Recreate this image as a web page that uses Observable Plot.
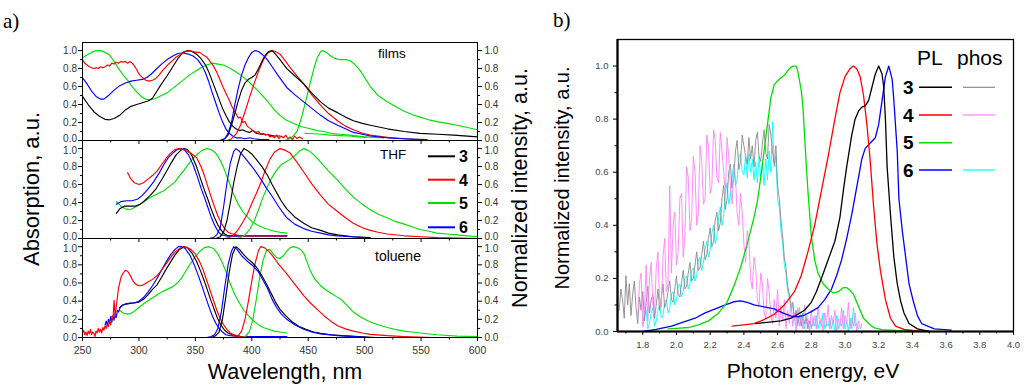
<!DOCTYPE html>
<html><head><meta charset="utf-8">
<script src="https://cdn.jsdelivr.net/npm/d3@7"></script>
<script src="https://cdn.jsdelivr.net/npm/@observablehq/plot@0.6"></script>
<style>
body{margin:0;background:#fff;}
#fig{position:relative;width:1024px;height:387px;overflow:hidden;background:#fff;}
</style></head><body><div id="fig"></div>
<script>
// ---------- panel a) axes ----------
const nmDomain = [250, 600];
const nmTicks = [250, 300, 350, 400, 450, 500, 550, 600];
const nmMinor = [275, 325, 375, 425, 475, 525, 575];
const aDomain = [0, 1.09];
const aTicks = [0, 0.2, 0.4, 0.6, 0.8, 1.0];
const aMid = [0.2, 0.4, 0.6, 0.8];
const aMinor = [0.1, 0.3, 0.5, 0.7, 0.9];
const col = {"3": "#000000", "4": "#ff0000", "5": "#00e000", "6": "#0000ff"};
const phosCol = {"3": "#8a8a8a", "4": "#ff80ff", "6": "#00ffff"};

// ---------- films ----------
const filmsAbs3 = [[250,0.49],[255,0.40],[260,0.32],[265,0.27],[270,0.235],[274,0.23],[278,0.245],[283,0.28],[288,0.34],[293,0.38],[298,0.40],[303,0.42],[308,0.44],[312,0.47],[316,0.55],[320,0.63],[325,0.72],[330,0.82],[335,0.92],[339,0.98],[343,1.0],[347,0.99],[351,0.96],[355,0.91],[359,0.84],[362,0.76],[365,0.66],[368,0.56],[371,0.46],[374,0.36],[377,0.28],[380,0.21],[383,0.16],[386,0.13],[389,0.11],[392,0.12],[395,0.10],[398,0.09],[401,0.11],[404,0.08],[408,0.07],[412,0.07],[416,0.06],[420,0.05],[425,0.05]];
const filmsAbs4 = [[250,0.90],[252,0.86],[254,0.84],[256,0.82],[258,0.81],[260,0.80],[262,0.81],[264,0.80],[266,0.82],[268,0.81],[270,0.82],[272,0.84],[274,0.83],[276,0.86],[278,0.85],[280,0.87],[282,0.86],[284,0.88],[286,0.87],[288,0.88],[290,0.86],[292,0.88],[294,0.86],[296,0.83],[298,0.79],[300,0.74],[303,0.70],[306,0.67],[309,0.66],[312,0.67],[315,0.69],[318,0.73],[321,0.78],[324,0.82],[327,0.86],[330,0.89],[333,0.93],[336,0.95],[339,0.98],[342,0.99],[345,1.00],[348,0.99],[351,0.98],[354,0.98],[357,0.95],[360,0.93],[363,0.88],[366,0.83],[369,0.76],[372,0.67],[375,0.58],[378,0.50],[380,0.45],[382,0.39],[384,0.34],[386,0.30],[388,0.25],[390,0.26],[392,0.20],[394,0.21],[396,0.16],[398,0.14],[400,0.12],[402,0.10],[404,0.09],[406,0.10],[408,0.07],[410,0.08],[412,0.06],[414,0.07],[416,0.04],[418,0.05],[420,0.03],[422,0.06],[424,0.02],[426,0.05],[428,0.03],[430,0.06],[432,0.02],[434,0.04],[436,0.01],[438,0.05],[440,0.02],[442,0.04],[445,0.02]];
const filmsAbs5 = [[250,0.92],[254,0.95],[258,0.98],[262,1.0],[266,1.0],[270,0.98],[274,0.95],[278,0.88],[282,0.80],[286,0.73],[290,0.67],[294,0.60],[298,0.54],[302,0.49],[306,0.46],[310,0.45],[315,0.47],[320,0.50],[325,0.53],[330,0.58],[335,0.63],[340,0.68],[345,0.73],[350,0.77],[355,0.81],[360,0.84],[365,0.86],[370,0.85],[375,0.84],[380,0.81],[385,0.77],[390,0.73],[395,0.68],[400,0.62],[405,0.56],[410,0.49],[415,0.42],[420,0.34],[425,0.28],[430,0.23],[437,0.19],[445,0.15],[452,0.13],[458,0.11],[464,0.10],[470,0.08],[478,0.07],[487,0.06],[500,0.04],[517,0.03]];
const filmsAbs5b = [[447,0.08],[455,0.075],[462,0.07],[470,0.06],[478,0.055],[486,0.05],[494,0.04],[502,0.035]];
const filmsAbs6 = [[250,0.70],[254,0.63],[258,0.55],[262,0.49],[266,0.46],[269,0.46],[273,0.50],[278,0.56],[283,0.61],[288,0.64],[293,0.66],[298,0.67],[303,0.68],[307,0.70],[311,0.74],[315,0.79],[320,0.85],[325,0.90],[330,0.94],[335,0.97],[340,0.97],[344,0.96],[348,0.94],[352,0.90],[356,0.83],[359,0.75],[362,0.65],[365,0.53],[368,0.42],[371,0.31],[374,0.21],[377,0.13],[380,0.08],[383,0.05],[386,0.03],[390,0.03],[394,0.02],[398,0.03],[402,0.02],[408,0.01],[415,0.01]];
const filmsPL3 = [[372,0],[376,0.02],[379,0.06],[382,0.17],[385,0.30],[388,0.44],[391,0.56],[394,0.64],[397,0.68],[400,0.70],[403,0.73],[406,0.80],[409,0.88],[412,0.95],[415,0.99],[418,1.0],[421,0.96],[425,0.90],[431,0.80],[438,0.72],[446,0.63],[453,0.53],[461,0.43],[468,0.36],[476,0.31],[483,0.26],[490,0.22],[498,0.19],[505,0.17],[520,0.13],[535,0.10],[549,0.08],[565,0.07],[579,0.06],[600,0.04]];
const filmsPL4 = [[378,0],[382,0.02],[386,0.07],[390,0.17],[394,0.32],[398,0.48],[402,0.63],[406,0.77],[410,0.89],[414,0.97],[418,1.0],[421,0.99],[425,0.96],[430,0.88],[434,0.81],[440,0.72],[446,0.63],[453,0.51],[461,0.39],[468,0.30],[476,0.22],[483,0.16],[490,0.12],[498,0.08],[505,0.06],[520,0.035],[535,0.02],[548,0.01],[560,0.0]];
const filmsPL5 = [[428,0],[432,0.01],[436,0.04],[440,0.10],[444,0.25],[448,0.45],[452,0.65],[455,0.80],[458,0.92],[461,0.99],[463,1.0],[466,0.98],[470,0.94],[474,0.91],[478,0.90],[483,0.90],[487,0.89],[491,0.85],[496,0.78],[500,0.70],[505,0.60],[512,0.50],[520,0.43],[527,0.38],[534,0.33],[542,0.29],[549,0.26],[557,0.23],[564,0.21],[573,0.19],[582,0.17],[591,0.145],[600,0.12]];
const filmsPL6 = [[372,0],[376,0.02],[379,0.08],[382,0.20],[385,0.40],[388,0.58],[391,0.73],[394,0.84],[397,0.92],[400,0.98],[403,1.0],[406,0.99],[409,0.96],[413,0.91],[417,0.84],[424,0.71],[431,0.59],[438,0.51],[446,0.43],[453,0.36],[461,0.28],[468,0.22],[476,0.17],[483,0.13],[490,0.09],[498,0.07],[505,0.05],[520,0.03],[535,0.02],[555,0.01]];

// ---------- THF ----------
const thfAbs3 = [[280,0.28],[283,0.33],[287,0.36],[292,0.36],[297,0.36],[301,0.38],[305,0.42],[310,0.48],[315,0.55],[320,0.65],[325,0.76],[329,0.85],[333,0.93],[337,0.98],[340,1.0],[343,0.99],[347,0.92],[351,0.80],[355,0.65],[358,0.54],[361,0.44],[364,0.33],[367,0.23],[370,0.15],[373,0.09],[376,0.05],[379,0.03],[385,0.03],[400,0.03],[415,0.03],[431,0.03]];
const thfAbs4 = [[290,0.73],[293,0.66],[296,0.62],[300,0.60],[304,0.62],[308,0.66],[312,0.70],[316,0.75],[320,0.82],[324,0.89],[328,0.95],[332,0.99],[335,1.0],[339,0.99],[343,0.97],[347,0.94],[351,0.90],[355,0.80],[358,0.70],[361,0.58],[364,0.46],[367,0.35],[370,0.25],[373,0.17],[376,0.11],[379,0.07],[383,0.05],[390,0.03],[410,0.03],[431,0.03]];
const thfAbs5 = [[280,0.41],[284,0.36],[288,0.33],[292,0.32],[297,0.35],[302,0.39],[307,0.43],[312,0.47],[317,0.50],[322,0.53],[327,0.58],[332,0.63],[336,0.70],[340,0.76],[344,0.83],[348,0.89],[352,0.94],[356,0.98],[360,1.0],[364,0.99],[368,0.95],[372,0.87],[376,0.76],[380,0.62],[384,0.49],[388,0.38],[392,0.30],[396,0.24],[400,0.19],[405,0.15],[410,0.12],[415,0.10],[420,0.08],[425,0.07],[431,0.06]];
const thfAbs6 = [[280,0.38],[284,0.41],[289,0.42],[294,0.42],[299,0.44],[303,0.48],[308,0.55],[313,0.63],[318,0.73],[322,0.82],[326,0.90],[330,0.95],[334,0.99],[337,1.0],[340,0.99],[344,0.93],[348,0.82],[352,0.68],[355,0.56],[358,0.46],[361,0.35],[364,0.24],[367,0.15],[370,0.08],[373,0.04],[377,0.03],[390,0.03],[410,0.03],[431,0.03]];
const thfPL3 = [[368,0],[372,0.02],[375,0.07],[378,0.20],[381,0.40],[384,0.62],[387,0.80],[390,0.94],[393,1.0],[396,0.98],[400,0.94],[404,0.88],[409,0.80],[414,0.70],[418,0.60],[422,0.51],[426,0.42],[431,0.33],[438,0.24],[446,0.17],[453,0.12],[461,0.09],[468,0.06],[476,0.04],[490,0.02],[505,0.01]];
const thfPL4 = [[376,0],[380,0.01],[384,0.04],[388,0.10],[392,0.18],[396,0.27],[400,0.39],[404,0.50],[408,0.62],[412,0.76],[416,0.88],[420,0.96],[425,1.0],[430,0.98],[434,0.95],[440,0.85],[446,0.74],[453,0.61],[461,0.48],[468,0.38],[476,0.30],[483,0.23],[490,0.17],[498,0.12],[505,0.09],[512,0.07],[520,0.05],[535,0.03],[550,0.02],[565,0.01],[600,0.0]];
const thfPL5 = [[386,0],[390,0.01],[394,0.04],[398,0.10],[402,0.19],[406,0.32],[410,0.46],[414,0.58],[418,0.68],[422,0.76],[426,0.82],[430,0.85],[434,0.88],[438,0.92],[442,0.97],[446,1.0],[450,0.98],[455,0.93],[461,0.85],[468,0.75],[476,0.65],[483,0.55],[490,0.46],[498,0.38],[505,0.32],[512,0.27],[520,0.23],[527,0.19],[535,0.16],[542,0.13],[549,0.10],[557,0.08],[564,0.06],[573,0.05],[582,0.04],[591,0.03],[600,0.02]];
const thfPL6 = [[362,0],[366,0.01],[369,0.04],[372,0.12],[375,0.35],[378,0.62],[381,0.84],[384,0.97],[386,1.0],[389,0.97],[393,0.91],[397,0.85],[402,0.77],[408,0.66],[413,0.56],[418,0.47],[424,0.35],[431,0.23],[438,0.16],[446,0.11],[453,0.08],[461,0.06],[468,0.04],[476,0.03],[488,0.02],[500,0.01]];

// ---------- toluene ----------
const tolAbs3 = [[283,0.33],[286,0.36],[290,0.37],[295,0.38],[300,0.39],[304,0.42],[308,0.47],[312,0.53],[316,0.58],[320,0.66],[324,0.75],[328,0.83],[332,0.91],[336,0.97],[340,1.0],[343,0.99],[347,0.93],[351,0.84],[355,0.72],[358,0.62],[361,0.51],[364,0.40],[367,0.30],[370,0.20],[373,0.13],[376,0.08],[379,0.05],[383,0.03],[390,0.01],[400,0.0]];
const tolAbs4 = [[250,0.05],[251,0.08],[252,0.03],[253,0.06],[254,0.02],[255,0.07],[256,0.04],[257,0.09],[258,0.03],[259,0.06],[260,0.05],[261,0.01],[262,0.07],[263,0.05],[264,0.10],[265,0.06],[266,0.09],[267,0.05],[268,0.11],[269,0.08],[270,0.13],[271,0.10],[272,0.15],[273,0.12],[274,0.19],[275,0.14],[276,0.23],[277,0.20],[278,0.41],[279,0.22],[280,0.35],[281,0.45],[282,0.55],[283,0.60],[284,0.66],[286,0.71],[288,0.74],[290,0.73],[292,0.69],[294,0.64],[296,0.60],[298,0.58],[301,0.57],[304,0.58],[308,0.61],[312,0.64],[316,0.68],[320,0.74],[324,0.81],[328,0.88],[332,0.94],[336,0.98],[339,1.0],[342,0.99],[346,0.97],[350,0.92],[354,0.83],[357,0.74],[360,0.63],[363,0.52],[366,0.41],[369,0.30],[372,0.21],[375,0.14],[378,0.09],[381,0.05],[384,0.03],[390,0.01],[400,0.0]];
const tolAbs5 = [[283,0.30],[286,0.27],[289,0.26],[292,0.26],[296,0.29],[300,0.33],[305,0.38],[310,0.42],[315,0.46],[320,0.50],[325,0.53],[330,0.56],[334,0.60],[338,0.66],[342,0.74],[346,0.82],[350,0.89],[354,0.95],[358,0.99],[362,1.0],[366,0.98],[370,0.92],[374,0.82],[378,0.70],[381,0.59],[385,0.47],[389,0.38],[393,0.30],[397,0.24],[401,0.19],[405,0.15],[410,0.11],[415,0.09],[420,0.07],[425,0.06],[431,0.05]];
const tolAbs6 = [[270,0.14],[271,0.18],[272,0.13],[273,0.20],[274,0.16],[275,0.23],[276,0.17],[277,0.24],[278,0.19],[279,0.27],[280,0.22],[281,0.30],[282,0.28],[283,0.32],[285,0.35],[288,0.37],[292,0.38],[296,0.38],[300,0.40],[304,0.44],[308,0.50],[312,0.57],[316,0.65],[320,0.74],[324,0.83],[328,0.91],[332,0.97],[335,1.0],[338,1.0],[341,0.98],[345,0.91],[349,0.80],[353,0.67],[356,0.56],[359,0.45],[362,0.34],[365,0.24],[368,0.16],[371,0.10],[374,0.06],[377,0.03],[381,0.02],[390,0.01],[410,0.01],[431,0.01]];
const tolPL3 = [[364,0],[368,0.02],[371,0.06],[374,0.20],[377,0.45],[380,0.72],[383,0.92],[386,1.0],[389,0.97],[393,0.91],[397,0.86],[401,0.82],[405,0.76],[409,0.68],[413,0.59],[417,0.49],[421,0.39],[425,0.31],[430,0.24],[436,0.17],[442,0.12],[448,0.09],[455,0.06],[461,0.045],[470,0.03],[480,0.02],[495,0.01],[510,0.0]];
const tolPL4 = [[384,0],[388,0.02],[391,0.07],[394,0.20],[397,0.40],[400,0.62],[403,0.82],[406,0.96],[408,1.0],[411,0.99],[415,0.95],[419,0.89],[423,0.82],[427,0.76],[431,0.70],[436,0.62],[441,0.54],[446,0.46],[452,0.38],[458,0.31],[464,0.24],[470,0.18],[476,0.13],[483,0.095],[490,0.07],[498,0.05],[505,0.035],[520,0.02],[535,0.01],[560,0.0]];
const tolPL5 = [[392,0],[395,0.02],[398,0.07],[401,0.20],[404,0.42],[407,0.66],[410,0.85],[413,0.96],[416,0.97],[419,0.92],[422,0.88],[425,0.87],[428,0.90],[431,0.95],[434,0.99],[437,1.0],[440,0.99],[443,0.97],[446,0.93],[449,0.83],[452,0.73],[456,0.64],[461,0.57],[466,0.52],[470,0.49],[475,0.45],[479,0.42],[484,0.36],[490,0.28],[497,0.22],[505,0.17],[512,0.14],[520,0.11],[527,0.09],[535,0.07],[542,0.06],[549,0.05],[564,0.03],[582,0.015],[600,0.01]];
const tolPL6 = [[360,0],[364,0.01],[367,0.03],[370,0.10],[373,0.28],[376,0.55],[379,0.80],[382,0.95],[384,1.0],[387,0.97],[391,0.90],[396,0.84],[401,0.79],[406,0.72],[410,0.63],[414,0.54],[418,0.42],[422,0.33],[426,0.26],[431,0.20],[438,0.14],[446,0.09],[453,0.06],[461,0.04],[476,0.02],[490,0.01],[505,0.0]];

// ---------- panel b) ----------
const eDomain = [1.65, 4.0];
const eTicks = [1.8, 2.0, 2.2, 2.4, 2.6, 2.8, 3.0, 3.2, 3.4, 3.6, 3.8, 4.0];
const eMinor = [1.7, 1.9, 2.1, 2.3, 2.5, 2.7, 2.9, 3.1, 3.3, 3.5, 3.7, 3.9];
const bDomain = [0, 1.1];
const bTicks = [0, 0.2, 0.4, 0.6, 0.8, 1.0];
const bMinor = [0.1, 0.3, 0.5, 0.7, 0.9];

const pl3 = [[2.47,0.03],[2.55,0.035],[2.62,0.04],[2.68,0.05],[2.72,0.065],[2.76,0.08],[2.80,0.11],[2.83,0.15],[2.86,0.20],[2.90,0.27],[2.94,0.34],[2.97,0.43],[2.99,0.53],[3.01,0.62],[3.04,0.74],[3.06,0.80],[3.08,0.83],[3.10,0.845],[3.12,0.85],[3.14,0.87],[3.16,0.92],[3.18,0.97],[3.20,1.0],[3.22,0.97],[3.23,0.92],[3.24,0.80],[3.25,0.62],[3.26,0.53],[3.27,0.44],[3.29,0.28],[3.31,0.18],[3.33,0.115],[3.35,0.07],[3.38,0.03],[3.43,0.01],[3.50,0.0]];
const pl4 = [[2.33,0.02],[2.40,0.025],[2.46,0.03],[2.52,0.045],[2.58,0.065],[2.64,0.10],[2.70,0.15],[2.74,0.21],[2.78,0.30],[2.82,0.40],[2.86,0.53],[2.90,0.66],[2.94,0.80],[2.97,0.90],[3.00,0.96],[3.03,0.99],[3.05,1.0],[3.07,0.99],[3.09,0.96],[3.11,0.89],[3.13,0.78],[3.15,0.64],[3.17,0.47],[3.19,0.33],[3.21,0.23],[3.24,0.12],[3.27,0.05],[3.30,0.02],[3.35,0.008],[3.45,0.0]];
const pl5 = [[1.95,0.01],[2.0,0.012],[2.07,0.015],[2.13,0.025],[2.19,0.04],[2.25,0.07],[2.30,0.11],[2.34,0.17],[2.38,0.24],[2.42,0.33],[2.46,0.43],[2.48,0.49],[2.50,0.58],[2.52,0.68],[2.54,0.78],[2.56,0.88],[2.58,0.93],[2.61,0.95],[2.64,0.965],[2.67,0.99],[2.69,1.0],[2.71,1.0],[2.72,0.98],[2.74,0.91],[2.75,0.85],[2.76,0.74],[2.77,0.63],[2.78,0.53],[2.80,0.36],[2.82,0.27],[2.84,0.22],[2.87,0.18],[2.90,0.16],[2.93,0.145],[2.96,0.15],[2.99,0.165],[3.01,0.165],[3.03,0.155],[3.05,0.14],[3.07,0.11],[3.09,0.08],[3.11,0.05],[3.14,0.03],[3.17,0.015],[3.22,0.007],[3.30,0.004],[3.40,0.002],[3.51,0.0]];
const pl6 = [[1.80,0.0],[1.88,0.008],[1.97,0.02],[2.04,0.035],[2.11,0.05],[2.17,0.07],[2.23,0.085],[2.29,0.10],[2.34,0.112],[2.38,0.115],[2.42,0.11],[2.46,0.10],[2.52,0.093],[2.58,0.085],[2.63,0.07],[2.68,0.058],[2.72,0.055],[2.76,0.062],[2.80,0.075],[2.84,0.09],[2.88,0.12],[2.92,0.16],[2.95,0.21],[2.98,0.27],[3.01,0.35],[3.04,0.44],[3.06,0.51],[3.08,0.58],[3.10,0.65],[3.12,0.69],[3.15,0.71],[3.18,0.73],[3.20,0.78],[3.22,0.87],[3.24,0.96],[3.26,1.0],[3.28,0.95],[3.29,0.87],[3.31,0.68],[3.32,0.50],[3.34,0.38],[3.36,0.28],[3.38,0.18],[3.405,0.115],[3.43,0.06],[3.455,0.03],[3.53,0.01],[3.63,0.005]];

// phosphorescence: shared energy grid (eV) and noisy values (null = no data)
const phosE = [1.66,1.67,1.68,1.69,1.70,1.71,1.72,1.73,1.74,1.75,1.76,1.77,1.78,1.79,1.80,1.81,1.82,1.83,1.84,1.85,1.86,1.87,1.88,1.89,1.90,1.91,1.92,1.93,1.94,1.95,1.96,1.97,1.98,1.99,2.00,2.01,2.02,2.03,2.04,2.05,2.06,2.07,2.08,2.09,2.10,2.11,2.12,2.13,2.14,2.15,2.16,2.17,2.18,2.19,2.20,2.21,2.22,2.23,2.24,2.25,2.26,2.27,2.28,2.29,2.30,2.31,2.32,2.33,2.34,2.35,2.36,2.37,2.38,2.39,2.40,2.41,2.42,2.43,2.44,2.45,2.46,2.47,2.48,2.49,2.50,2.51,2.52,2.53,2.54,2.55,2.56,2.57,2.58,2.59,2.60,2.61,2.62,2.63,2.64,2.65,2.66,2.67,2.68,2.69,2.70,2.71,2.72,2.73,2.74,2.75,2.76,2.77,2.78,2.79,2.80,2.81,2.82,2.83,2.84,2.85,2.86,2.87,2.88,2.89,2.90,2.91,2.92,2.93,2.94,2.95,2.96,2.97,2.98,2.99,3.00,3.01,3.02,3.03,3.04,3.05,3.06,3.07,3.08,3.09,3.10];
const phos3 = [0.08,0.16,0.12,0.05,0.21,0.10,0.18,0.06,0.14,0.19,
 0.09,0.03,0.13,0.08,0.15,0.04,0.11,0.17,0.07,0.12,
 0.14,0.05,0.10,0.16,0.08,0.13,0.18,0.09,0.11,0.15,
 0.19,0.12,0.11,0.16,0.21,0.14,0.13,0.18,0.23,0.16,
 0.17,0.22,0.26,0.19,0.20,0.25,0.30,0.23,0.24,0.29,
 0.34,0.27,0.29,0.35,0.39,0.32,0.34,0.42,0.45,0.38,
 0.41,0.50,0.55,0.46,0.50,0.60,0.63,0.54,0.58,0.68,
 0.72,0.61,0.64,0.74,0.70,0.66,0.63,0.73,0.65,0.70,
 0.62,0.72,0.75,0.66,0.64,0.71,0.76,0.67,0.65,0.78,
 0.74,0.68,0.63,0.70,0.55,0.50,0.42,0.36,0.28,0.24,
 0.17,0.14,0.09,0.11,0.05,0.08,0.03,0.06,0.02,0.07,
 0.03,0.05,0.01,0.04,0.02,
 null,null,null,null,null,null,null,null,null,null,null,null,null,null,null,null,null,null,null,null,null,null,null,null,null,null,null,null,null,null];
const phos6 = [null,null,null,null,null,null,null,null,null,null,null,null,null,null,
 0.02,0.06,0.08,0.01,0.03,0.07,0.09,0.02,0.04,0.08,
 0.10,0.05,0.06,0.11,0.12,0.07,0.09,0.14,0.15,0.10,
 0.12,0.17,0.18,0.13,0.15,0.20,0.21,0.16,0.18,0.23,
 0.24,0.19,0.21,0.27,0.28,0.23,0.26,0.31,0.34,0.28,
 0.31,0.37,0.40,0.33,0.36,0.43,0.47,0.40,0.44,0.52,
 0.56,0.48,0.51,0.58,0.63,0.55,0.57,0.66,0.67,0.60,
 0.59,0.66,0.58,0.67,0.60,0.65,0.57,0.64,0.56,0.66,
 0.58,0.63,0.55,0.65,0.57,0.68,0.60,0.79,0.62,0.66,
 0.50,0.47,0.38,0.33,0.25,0.22,0.15,0.13,0.08,0.10,
 0.04,0.07,0.02,0.09,0.03,0.05,0.01,0.06,0.02,0.04,
 0.01,0.05,0.02,0.06,0.01,0.04,0.02,0.07,0.01,0.03,
 0.02,0.05,0.01,0.04,0.00,0.06,0.01,0.03,0.02,0.08,
 0.01,0.04,0.00,0.05,0.01,0.09,0.02,0.03,0.01,
 null,null];
const phos4 = [null,null,null,null,null,null,null,null,null,null,null,
 0.05,0.18,0.22,0.02,0.08,0.25,0.04,0.20,0.26,0.10,
 0.07,0.24,0.30,0.12,0.09,0.28,0.35,0.15,0.18,0.55,
 0.22,0.40,0.45,0.25,0.30,0.50,0.52,0.28,0.36,0.62,
 0.58,0.38,0.42,0.66,0.60,0.40,0.45,0.70,0.64,0.48,
 0.50,0.74,0.70,0.52,0.55,0.76,0.72,0.58,0.56,0.75,
 0.68,0.60,0.52,0.73,0.66,0.55,0.48,0.62,0.58,0.45,
 0.40,0.52,0.45,0.33,0.26,0.38,0.34,0.20,0.16,0.28,
 0.24,0.12,0.10,0.22,0.18,0.07,0.05,0.20,0.15,0.06,
 0.03,0.12,0.05,0.16,0.02,0.10,0.04,0.12,0.01,0.08,
 0.03,0.11,0.02,0.07,0.00,0.09,0.02,0.06,0.01,0.10,
 0.03,0.05,0.00,0.08,0.02,0.06,0.01,0.09,0.03,0.05,
 0.00,0.07,0.02,0.10,0.01,0.06,0.03,0.08,0.00,0.05,
 0.02,0.09,0.01,0.06,0.03,0.11,0.01,0.05,0.02,0.07,
 0.00,0.04,0.01,0.03];

// ---------- drawing ----------
const fig = document.getElementById("fig");
const FONT = "'Liberation Sans', Arial, sans-serif";
function place(el, left, top) {
  el.style.position = "absolute"; el.style.left = left + "px"; el.style.top = top + "px";
  fig.appendChild(el);
}
const fmt1 = d3.format(".1f");
const blank = () => "";
const X = d => d[0], Y = d => d[1];

function yLabels(anchor, pad, o) {
  const base = {anchor, tickSize: 0, tickPadding: pad, tickFormat: fmt1, label: null, fill: "#333", fontSize: 10};
  return [
    Plot.axisY(aMid, base),
    Plot.axisY([aTicks[0]], {...base, dy: o.mb === 0 ? -1.8 : 0}),
    Plot.axisY([aTicks[aTicks.length - 1]], {...base, dy: o.mt === 0 ? 1.8 : 0})
  ];
}
function panelA(series, o) {
  const marks = series.map(s => Plot.line(s.data, {x: X, y: Y, stroke: s.color, strokeWidth: 1.15}));
  marks.push(Plot.frame({stroke: "#000", strokeWidth: 1}));
  marks.push(Plot.axisY(aTicks, {anchor: "left", tickSize: 4, tickFormat: blank, label: null, stroke: "#000"}));
  marks.push(Plot.axisY(aMinor, {anchor: "left", tickSize: 2, tickFormat: blank, label: null, stroke: "#000"}));
  marks.push(Plot.axisY(aTicks, {anchor: "right", tickSize: 4, tickFormat: blank, label: null, stroke: "#000"}));
  marks.push(Plot.axisY(aMinor, {anchor: "right", tickSize: 2, tickFormat: blank, label: null, stroke: "#000"}));
  marks.push(...yLabels("left", 5.5, o), ...yLabels("right", 7, o));
  marks.push(Plot.axisX(nmTicks, {anchor: "bottom", tickSize: 4, tickPadding: 5.5, tickFormat: o.xLabels ? d3.format("d") : blank, label: null, stroke: "#000", fill: "#333", fontSize: 10.5}));
  marks.push(Plot.axisX(nmMinor, {anchor: "bottom", tickSize: 2.5, tickFormat: blank, label: null, stroke: "#000"}));
  return Plot.plot({
    width: 520, height: o.height, marginLeft: 82, marginRight: 43, marginTop: o.mt, marginBottom: o.mb,
    x: {domain: nmDomain}, y: {domain: aDomain},
    style: {background: "transparent", overflow: "visible", fontFamily: FONT},
    marks
  });
}
function ser(abs, pl, extra) {
  const out = [];
  for (const k of ["5","3","6","4"]) out.push({data: abs[k], color: col[k]});
  if (extra) out.push({data: extra, color: col["5"]});
  for (const k of ["5","4","3","6"]) out.push({data: pl[k], color: col[k]});
  return out;
}
place(panelA(ser({"3": filmsAbs3, "4": filmsAbs4, "5": filmsAbs5, "6": filmsAbs6}, {"3": filmsPL3, "4": filmsPL4, "5": filmsPL5, "6": filmsPL6}, filmsAbs5b), {height: 140, mt: 42, mb: 0}), 0, 0);
place(panelA(ser({"3": thfAbs3, "4": thfAbs4, "5": thfAbs5, "6": thfAbs6}, {"3": thfPL3, "4": thfPL4, "5": thfPL5, "6": thfPL6}), {height: 98, mt: 0, mb: 0}), 0, 140);
place(panelA(ser({"3": tolAbs3, "4": tolAbs4, "5": tolAbs5, "6": tolAbs6}, {"3": tolPL3, "4": tolPL4, "5": tolPL5, "6": tolPL6}), {height: 149, mt: 0, mb: 50, xLabels: true}), 0, 238);

// panel b)
const phosRows = (vals) => phosE.map((e, i) => [e, vals[i]]).filter(d => d[1] != null);
const bMarks = [
  Plot.line(phosRows(phos6), {x: X, y: Y, stroke: phosCol["6"], strokeWidth: 0.9}),
  Plot.line(phosRows(phos3), {x: X, y: Y, stroke: phosCol["3"], strokeWidth: 0.9}),
  Plot.line(phosRows(phos4), {x: X, y: Y, stroke: phosCol["4"], strokeWidth: 0.9}),
  Plot.line(pl6, {x: X, y: Y, stroke: col["6"], strokeWidth: 1.3}),
  Plot.line(pl5, {x: X, y: Y, stroke: col["5"], strokeWidth: 1.3}),
  Plot.line(pl4, {x: X, y: Y, stroke: col["4"], strokeWidth: 1.3}),
  Plot.line(pl3, {x: X, y: Y, stroke: col["3"], strokeWidth: 1.3}),
  Plot.frame({stroke: "#000", strokeWidth: 1.3}),
  Plot.ruleX([eDomain[0]], {stroke: "#000", strokeWidth: 2.2}),
  Plot.ruleY([bDomain[0]], {stroke: "#000", strokeWidth: 2}),
  Plot.axisY(bTicks, {anchor: "left", tickSize: 4, tickPadding: 5, tickFormat: fmt1, label: null, stroke: "#000", fill: "#444", fontSize: 9.5}),
  Plot.axisY(bMinor, {anchor: "left", tickSize: 2.5, tickFormat: blank, label: null, stroke: "#000"}),
  Plot.axisX(eTicks, {anchor: "bottom", tickSize: 4, tickPadding: 6, tickFormat: fmt1, label: null, stroke: "#000", fill: "#444", fontSize: 9.5}),
  Plot.axisX(eMinor, {anchor: "bottom", tickSize: 2.5, tickFormat: blank, label: null, stroke: "#000"})
];
place(Plot.plot({
  width: 504, height: 387, marginLeft: 97, marginRight: 11, marginTop: 39, marginBottom: 56,
  x: {domain: eDomain}, y: {domain: bDomain},
  style: {background: "transparent", overflow: "visible", fontFamily: FONT},
  marks: bMarks
}), 520, 0);

// ---------- annotations (titles, labels, legends) ----------
const ov = d3.select(fig).append("svg").attr("width", 1024).attr("height", 387)
  .style("position", "absolute").style("left", "0px").style("top", "0px").style("overflow", "visible");
const texts = [
  {t: "a)", x: 3, y: 28, size: 21, fam: "'Liberation Serif', 'Times New Roman', serif"},
  {t: "b)", x: 553, y: 27, size: 21, fam: "'Liberation Serif', 'Times New Roman', serif"},
  {t: "films", x: 378, y: 57.5, size: 13.5},
  {t: "THF", x: 380, y: 158.5, size: 13.5},
  {t: "toluene", x: 375, y: 261, size: 14},
  {t: "Wavelength, nm", x: 285, y: 378.5, size: 21.5, anchor: "middle"},
  {t: "Photon energy, eV", x: 813, y: 378, size: 21, anchor: "middle"},
  {t: "Absorption, a.u.", x: 38.5, y: 189, size: 22, anchor: "middle", rot: true},
  {t: "Normalized intensity, a.u.", x: 527, y: 188, size: 21.5, anchor: "middle", rot: true},
  {t: "Normalized intensity, a.u.", x: 569, y: 178, size: 20, anchor: "middle", rot: true},
  {t: "PL", x: 917, y: 65, size: 21},
  {t: "phos", x: 957, y: 65, size: 21}
];
for (const d of texts) {
  ov.append("text").text(d.t)
    .attr("transform", `translate(${d.x},${d.y})` + (d.rot ? " rotate(-90)" : ""))
    .attr("text-anchor", d.anchor || "start")
    .attr("font-family", d.fam || FONT).attr("font-size", d.size).attr("fill", "#000");
}
// legend a)
const legA = [{k: "3", y: 156.3}, {k: "4", y: 179.7}, {k: "5", y: 203}, {k: "6", y: 227.3}];
for (const d of legA) {
  ov.append("line").attr("x1", 428).attr("x2", 455).attr("y1", d.y).attr("y2", d.y).attr("stroke", col[d.k]).attr("stroke-width", 2);
  ov.append("text").text(d.k).attr("x", 459).attr("y", d.y + 5.8).attr("font-family", FONT).attr("font-weight", "bold").attr("font-size", 16);
}
// legend b)
const legB = [{k: "3", y: 87.3}, {k: "4", y: 115}, {k: "5", y: 142.7}, {k: "6", y: 170}];
for (const d of legB) {
  ov.append("text").text(d.k).attr("x", 903).attr("y", d.y + 6.6).attr("font-family", FONT).attr("font-weight", "bold").attr("font-size", 19);
  ov.append("line").attr("x1", 919).attr("x2", 952).attr("y1", d.y).attr("y2", d.y).attr("stroke", col[d.k]).attr("stroke-width", 1.6);
  if (phosCol[d.k]) ov.append("line").attr("x1", 963).attr("x2", 995).attr("y1", d.y).attr("y2", d.y).attr("stroke", phosCol[d.k]).attr("stroke-width", 1.2);
}
</script></body></html>
